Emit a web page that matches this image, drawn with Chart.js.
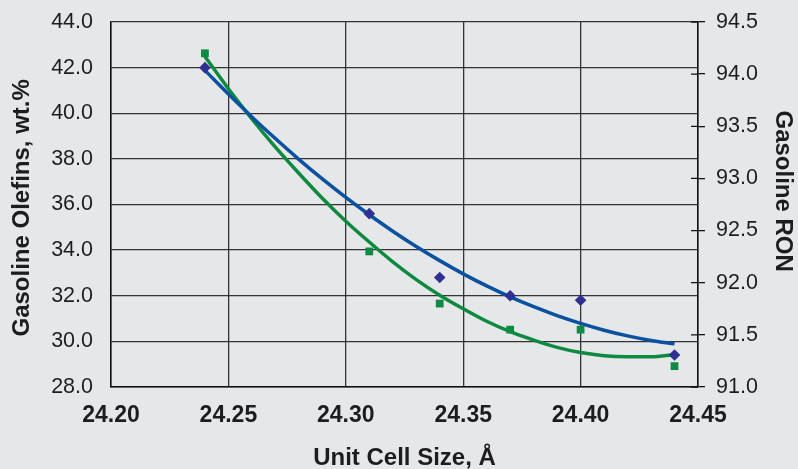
<!DOCTYPE html>
<html>
<head>
<meta charset="utf-8">
<script src="https://cdn.jsdelivr.net/npm/chart.js@4/dist/chart.umd.min.js"></script>
<style>
  html, body { margin: 0; padding: 0; background: #e6e7e9; }
  #wrap { width: 798px; height: 469px; }
</style>
</head>
<body>
<div id="wrap"><canvas id="c" width="798" height="469"></canvas></div>
<script>
// Measured points
const unitCellSize = [24.24, 24.31, 24.34, 24.37, 24.40, 24.44];
const olefins = [42.0, 35.6, 32.8, 32.0, 31.8, 29.4];
const ron = [94.2, 92.3, 91.8, 91.55, 91.55, 91.2];

// Trend lines
const trendX = [24.24, 24.25, 24.26, 24.27, 24.28, 24.29, 24.30, 24.31, 24.32, 24.33, 24.34,
                24.35, 24.36, 24.37, 24.38, 24.39, 24.40, 24.41, 24.42, 24.43, 24.44];
const olefinsTrend = [41.88, 40.84, 39.84, 38.89, 37.98, 37.12, 36.31, 35.55, 34.83, 34.16, 33.54,
                      32.96, 32.43, 31.95, 31.52, 31.13, 30.79, 30.49, 30.24, 30.04, 29.89];
const ronTrend = [94.17, 93.86, 93.57, 93.30, 93.05, 92.81, 92.59, 92.39, 92.20, 92.03, 91.88,
                  91.75, 91.63, 91.53, 91.45, 91.38, 91.33, 91.30, 91.29, 91.29, 91.31];

// Axis ranges / tick steps
const xRange = [24.20, 24.45, 0.05];
const olefinRange = [28, 44, 2];
const ronRange = [91.0, 94.5, 0.5];

const pts = (xs, ys) => xs.map((x, i) => ({ x: x, y: ys[i] }));

const FONT = "'Liberation Sans', Arial, Helvetica, sans-serif";
const TXT = '#1d1d1f';

const bgPlugin = {
  id: 'bg',
  beforeDraw(chart) {
    const ctx = chart.ctx;
    ctx.save();
    ctx.fillStyle = '#e6e7e9';
    ctx.fillRect(0, 0, chart.width, chart.height);
    ctx.restore();
  }
};
const innerTicks = {
  id: 'innerTicks',
  afterDraw(chart) {
    const s = chart.scales.yR;
    const ctx = chart.ctx;
    ctx.save();
    ctx.strokeStyle = '#111';
    ctx.lineWidth = 1.3;
    ctx.beginPath();
    s.ticks.forEach(t => {
      const y = s.getPixelForValue(t.value);
      ctx.moveTo(s.left - 7, y);
      ctx.lineTo(s.left, y);
    });
    ctx.stroke();
    ctx.restore();
  }
};

new Chart(document.getElementById('c'), {
  type: 'scatter',
  data: {
    datasets: [
      {
        label: 'Olefins',
        data: pts(unitCellSize, olefins),
        yAxisID: 'y',
        pointStyle: 'rectRot',
        pointRadius: 5.8,
        pointHoverRadius: 5.8,
        backgroundColor: '#2e3192',
        borderColor: '#2e3192',
        borderWidth: 0,
        showLine: false
      },
      {
        label: 'RON',
        data: pts(unitCellSize, ron),
        yAxisID: 'yR',
        pointStyle: 'rect',
        pointRadius: 5.5,
        pointHoverRadius: 5.5,
        backgroundColor: '#0f8a45',
        borderColor: '#0f8a45',
        borderWidth: 0,
        showLine: false
      },
      {
        label: 'Olefins trend',
        data: pts(trendX, olefinsTrend),
        yAxisID: 'y',
        showLine: true,
        pointRadius: 0,
        borderColor: '#0a51a0',
        borderWidth: 3.5,
        tension: 0.4,
        cubicInterpolationMode: 'monotone',
        fill: false
      },
      {
        label: 'RON trend',
        data: pts(trendX, ronTrend),
        yAxisID: 'yR',
        showLine: true,
        pointRadius: 0,
        borderColor: '#0d8a40',
        borderWidth: 3.5,
        tension: 0.4,
        cubicInterpolationMode: 'monotone',
        fill: false
      }
    ]
  },
  options: {
    responsive: false,
    animation: false,
    devicePixelRatio: 1,
    layout: { padding: { top: 22, left: 0, right: 0, bottom: 0 } },
    plugins: { legend: { display: false }, tooltip: { enabled: false } },
    scales: {
      x: {
        type: 'linear',
        min: xRange[0], max: xRange[1],
        afterFit(s) { s.height = 82; s.paddingLeft = 0; s.paddingRight = 0; },
        ticks: {
          stepSize: xRange[2],
          padding: 15,
          color: TXT,
          font: { family: FONT, size: 23, weight: 'bold' },
          callback: v => Number(v).toFixed(2)
        },
        grid: { color: '#333', lineWidth: 1.3, drawTicks: false },
        border: { display: true, color: '#111', width: 1.5 },
        title: {
          display: true,
          text: 'Unit Cell Size, Å',
          color: TXT,
          font: { family: FONT, size: 24, weight: 'bold', lineHeight: 1 },
          padding: { top: 0, bottom: -1 }
        }
      },
      y: {
        position: 'left',
        min: olefinRange[0], max: olefinRange[1],
        afterFit(s) { s.width = 111; s.paddingTop = 0; s.paddingBottom = 0; },
        ticks: {
          stepSize: olefinRange[2],
          padding: 18,
          color: TXT,
          font: { family: FONT, size: 21.5 },
          callback: v => Number(v).toFixed(1)
        },
        grid: { color: '#333', lineWidth: 1.3, drawTicks: false },
        border: { display: true, color: '#111', width: 1.5 },
        title: {
          display: true,
          text: 'Gasoline Olefins, wt.% ',
          color: TXT,
          font: { family: FONT, size: 24, weight: 'bold', lineHeight: 1 },
          padding: { top: 10, bottom: 0 }
        }
      },
      yR: {
        position: 'right',
        min: ronRange[0], max: ronRange[1],
        afterFit(s) { s.width = 100; s.paddingTop = 0; s.paddingBottom = 0; },
        ticks: {
          stepSize: ronRange[2],
          padding: 11,
          color: TXT,
          font: { family: FONT, size: 21.5 },
          callback: v => Number(v).toFixed(1)
        },
        grid: { drawOnChartArea: false, drawTicks: true, tickLength: 7, color: '#111', lineWidth: 1.3 },
        border: { display: true, color: '#111', width: 1.5 },
        title: {
          display: true,
          text: 'Gasoline RON    ',
          color: TXT,
          font: { family: FONT, size: 24, weight: 'bold', lineHeight: 1 },
          padding: { top: 3, bottom: 0 }
        }
      }
    }
  },
  plugins: [bgPlugin, innerTicks]
});
</script>
</body>
</html>
